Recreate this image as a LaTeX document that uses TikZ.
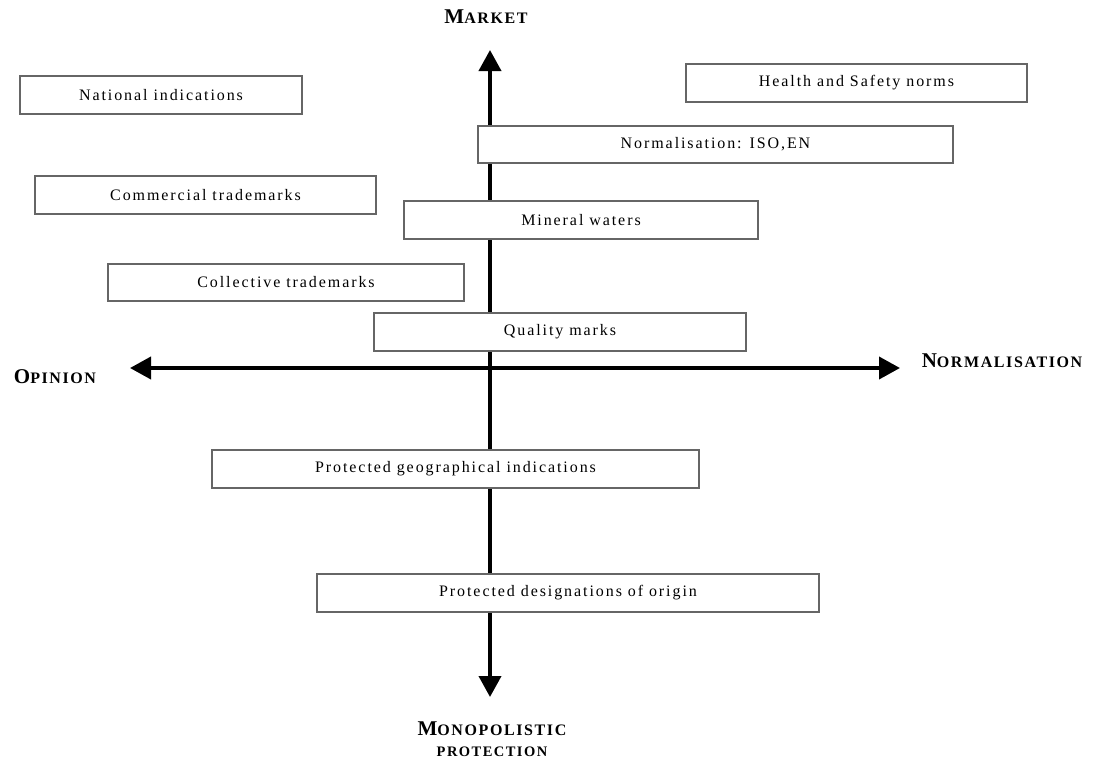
\documentclass[tikz,border=0pt]{standalone}
\usepackage{fontspec}
\setmainfont{Liberation Serif}
\newfontfamily\boxfont[LetterSpace=12]{Liberation Serif}
\newfontfamily\labfont[LetterSpace=10]{Liberation Serif}
\usetikzlibrary{arrows.meta}
\newcommand\scl[2]{{\fontsize{21}{24}\selectfont #1}{\fontsize{16}{19}\selectfont #2}}
\newcommand\bx[6]{\node[box, minimum width={#4-#2}, minimum height={#5-#3}] (#1) at ({(#2+#4)/2},{(#3+#5)/2}) {#6};}
\begin{document}
\begin{tikzpicture}[x=1pt,y=-1pt,
  box/.style={draw=black!60, line width=1.1pt, fill=white, inner sep=0pt, font=\boxfont\fontsize{16}{18}\selectfont},
  axisline/.style={line width=3.8pt, {Triangle[length=21pt,width=22pt]}-{Triangle[length=21pt,width=22pt]}},
  lab/.style={font=\labfont\bfseries, align=center, inner sep=0pt}]
\useasboundingbox (0,0) rectangle (1093,764);
\coordinate (top) at (490,50);
\coordinate (bot) at (490,697);
\coordinate (left) at (130,368);
\coordinate (right) at (900,368);
\draw[axisline] (bot) -- (top);
\draw[axisline] (left) -- (right);
\bx{nat}{20}{76}{302}{114}{National indications}
\bx{hs}{686}{64}{1027}{102}{Health and Safety norms}
\bx{iso}{478}{126}{953}{163}{Normalisation: ISO,EN}
\bx{com}{35}{176}{376}{214}{Commercial trademarks}
\bx{min}{404}{201}{758}{239}{Mineral waters}
\bx{col}{108}{264}{464}{301}{Collective trademarks}
\bx{qual}{374}{313}{746}{351}{Quality marks}
\bx{pgi}{212}{450}{699}{488}{Protected geographical indications}
\bx{pdo}{317}{574}{819}{612}{Protected designations of origin}
\node[lab] (market) at (486,17) {\scl{M}{ARKET}};
\node[lab] (opinion) at (55,377) {\scl{O}{PINION}};
\node[lab] (norm) at (1002,361) {\scl{N}{ORMALISATION}};
\node[lab] (mono) at (492,729) {\scl{M}{ONOPOLISTIC}};
\node[lab] (prot) at (492,752) {{\fontsize{14.5}{17}\selectfont PROTECTION}};
\end{tikzpicture}
\end{document}
